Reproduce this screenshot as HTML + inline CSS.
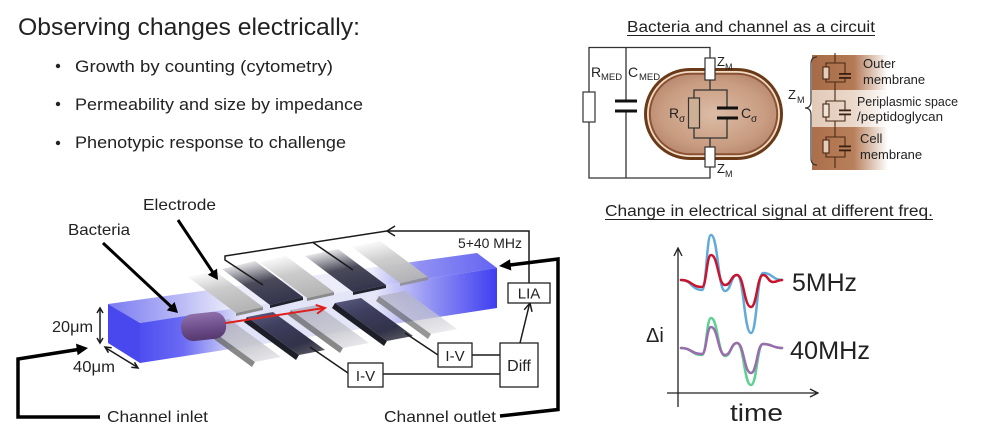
<!DOCTYPE html>
<html><head><meta charset="utf-8"><style>
html,body{margin:0;padding:0;background:#fff;}
svg{display:block;}
text{font-family:"Liberation Sans",sans-serif;fill:#222;}
</style></head><body>
<svg width="1000" height="446" viewBox="0 0 1000 446" xmlns="http://www.w3.org/2000/svg">
<defs>
<linearGradient id="front" gradientUnits="userSpaceOnUse" x1="140" y1="0" x2="497" y2="0">
<stop offset="0" stop-color="#4e4ef2"/><stop offset="0.12" stop-color="#6a6af3"/><stop offset="0.28" stop-color="#e2e2f8"/><stop offset="0.66" stop-color="#e6e6f8"/><stop offset="0.8" stop-color="#9a9af4"/><stop offset="1" stop-color="#3e3ef0"/></linearGradient>
<linearGradient id="top" gradientUnits="userSpaceOnUse" x1="108" y1="0" x2="497" y2="0">
<stop offset="0" stop-color="#7a7af2"/><stop offset="0.18" stop-color="#b8b8f6"/><stop offset="0.32" stop-color="#ececfa"/><stop offset="0.68" stop-color="#ececfa"/><stop offset="0.8" stop-color="#9090f2"/><stop offset="1" stop-color="#6464f2"/></linearGradient>
<linearGradient id="uLight" x1="0.6" y1="1" x2="0.2" y2="0">
<stop offset="0" stop-color="#b4b4b4"/><stop offset="0.55" stop-color="#cbcbcb"/><stop offset="1" stop-color="#ffffff"/></linearGradient>
<linearGradient id="uDark" x1="0.6" y1="1" x2="0.2" y2="0">
<stop offset="0" stop-color="#34344c"/><stop offset="0.5" stop-color="#4a4a5a"/><stop offset="1" stop-color="#ffffff"/></linearGradient>
<linearGradient id="lDark" x1="0.2" y1="0" x2="0.8" y2="1">
<stop offset="0" stop-color="#56567a"/><stop offset="0.3" stop-color="#3e3e5e"/><stop offset="0.75" stop-color="#32324a"/><stop offset="1" stop-color="#55555f"/></linearGradient>
<linearGradient id="lLight" x1="0.2" y1="0" x2="0.8" y2="1">
<stop offset="0" stop-color="#aeaec2"/><stop offset="0.6" stop-color="#c4c4cc"/><stop offset="1" stop-color="#e4e4e8"/></linearGradient>
<linearGradient id="bact" x1="0" y1="0" x2="0" y2="1">
<stop offset="0" stop-color="#8e70aa"/><stop offset="0.5" stop-color="#70508e"/><stop offset="1" stop-color="#56386e"/></linearGradient>
<radialGradient id="cell" cx="0.5" cy="0.5" r="0.6">
<stop offset="0" stop-color="#dcbca6"/><stop offset="0.7" stop-color="#c89c80"/><stop offset="1" stop-color="#b4846a"/></radialGradient>
<linearGradient id="band1" gradientUnits="userSpaceOnUse" x1="812" y1="0" x2="888" y2="0">
<stop offset="0" stop-color="#a66a46"/><stop offset="0.55" stop-color="#b47a56"/><stop offset="1" stop-color="#b47a56" stop-opacity="0"/></linearGradient>
<linearGradient id="band2" gradientUnits="userSpaceOnUse" x1="812" y1="0" x2="888" y2="0">
<stop offset="0" stop-color="#e2cab8"/><stop offset="0.55" stop-color="#ead8ca"/><stop offset="1" stop-color="#ead8ca" stop-opacity="0"/></linearGradient>
<linearGradient id="band3" gradientUnits="userSpaceOnUse" x1="812" y1="0" x2="888" y2="0">
<stop offset="0" stop-color="#ac6e4a"/><stop offset="0.55" stop-color="#b8805c"/><stop offset="1" stop-color="#b8805c" stop-opacity="0"/></linearGradient>
</defs>

<!-- Top-left text -->
<text x="18" y="35" font-size="24" textLength="342" lengthAdjust="spacingAndGlyphs" fill="#1a1a1a">Observing changes electrically:</text>
<circle cx="58" cy="66" r="2.2" fill="#222"/>
<circle cx="58" cy="104" r="2.2" fill="#222"/>
<circle cx="58" cy="143" r="2.2" fill="#222"/>
<text x="75" y="72" font-size="17" textLength="258" lengthAdjust="spacingAndGlyphs">Growth by counting (cytometry)</text>
<text x="75" y="110" font-size="17" textLength="288" lengthAdjust="spacingAndGlyphs">Permeability and size by impedance</text>
<text x="75" y="148" font-size="17" textLength="271" lengthAdjust="spacingAndGlyphs">Phenotypic response to challenge</text>

<!-- Circuit title -->
<text x="627" y="32" font-size="15.5" textLength="248" lengthAdjust="spacingAndGlyphs">Bacteria and channel as a circuit</text>
<line x1="627" y1="35.5" x2="875" y2="35.5" stroke="#222" stroke-width="1"/>

<!-- cell capsule -->
<rect x="644" y="68" width="139" height="92" rx="46" fill="#6a3a18"/>
<rect x="647" y="71" width="133" height="86" rx="43" fill="#f2dcc6"/>
<rect x="648.8" y="72.8" width="129.4" height="82.4" rx="41.2" fill="#8a5232"/>
<rect x="650.8" y="74.8" width="125.4" height="78.4" rx="39.2" fill="url(#cell)"/>

<!-- circuit wires -->
<g stroke="#333" stroke-width="1.3" fill="none">
<polyline points="710,58 710,47.5 589,47.5 589,92"/>
<polyline points="589,122 589,178 710,178 710,167"/>
<line x1="626" y1="47.5" x2="626" y2="101"/>
<line x1="626" y1="111" x2="626" y2="178"/>
<line x1="710" y1="80" x2="710" y2="90"/>
<line x1="710" y1="138" x2="710" y2="147"/>
<polyline points="694,98 694,90 727,90 727,108"/>
<polyline points="694,128 694,138 727,138 727,118"/>
</g>
<g stroke="#333" stroke-width="1.2" fill="#fff">
<rect x="583" y="92" width="12" height="30"/>
<rect x="705" y="58" width="10" height="22"/>
<rect x="705" y="147" width="10" height="20"/>
<rect x="688.5" y="98" width="11" height="30" fill="#cfae96"/>
</g>
<g fill="#111">
<rect x="615" y="99.5" width="22" height="3"/>
<rect x="615" y="109.5" width="22" height="3"/>
<rect x="717" y="106.5" width="21" height="3"/>
<rect x="717" y="116.5" width="21" height="3"/>
</g>
<text x="591" y="77" font-size="14">R</text><text x="601" y="80" font-size="9.5">MED</text>
<text x="628" y="77" font-size="14">C</text><text x="639" y="80" font-size="9.5">MED</text>
<text x="717" y="66" font-size="13">Z</text><text x="725" y="70" font-size="9">M</text>
<text x="717" y="173" font-size="13">Z</text><text x="725" y="177" font-size="9">M</text>
<text x="669" y="118" font-size="14">R</text><text x="679" y="122" font-size="10">σ</text>
<text x="741" y="118" font-size="14">C</text><text x="751" y="122" font-size="10">σ</text>

<!-- right membrane panel -->
<rect x="812" y="55" width="76" height="35" fill="url(#band1)"/>
<rect x="812" y="90" width="76" height="37" fill="url(#band2)"/>
<rect x="812" y="127" width="76" height="43" fill="url(#band3)"/>
<path d="M817,57 Q811,57 811,64 L811,101 Q811,108 805,108 Q811,108 811,115 L811,158 Q811,165 817,165" fill="none" stroke="#333" stroke-width="1.2"/>
<text x="788" y="99" font-size="13">Z</text><text x="797" y="103" font-size="9">M</text>
<g stroke="#4a2a14" stroke-width="1.1" fill="none">
<line x1="835" y1="53" x2="835" y2="63"/>
<polyline points="826,67 826,63 845,63 845,74"/><polyline points="826,79 826,82 845,82 845,78"/>
<line x1="835" y1="82" x2="835" y2="101"/>
<polyline points="826,104 826,101 845,101 845,110"/><polyline points="826,117 826,121 845,121 845,114"/>
<line x1="835" y1="121" x2="835" y2="137"/>
<polyline points="826,140 826,137 845,137 845,146"/><polyline points="826,153 826,157 845,157 845,150"/>
<line x1="835" y1="157" x2="835" y2="168"/>
<rect x="823" y="67" width="6" height="12" fill="#e4cdb9"/>
<rect x="823" y="104" width="6" height="13" fill="#efe2d6"/>
<rect x="823" y="140" width="6" height="13" fill="#e4cdb9"/>
</g>
<g fill="#3a2010">
<rect x="839" y="73" width="12" height="1.8"/><rect x="839" y="77" width="12" height="1.8"/>
<rect x="839" y="109.5" width="12" height="1.8"/><rect x="839" y="113.5" width="12" height="1.8"/>
<rect x="839" y="145.5" width="12" height="1.8"/><rect x="839" y="149.5" width="12" height="1.8"/>
</g>
<text x="863" y="68" font-size="13">Outer</text>
<text x="863" y="84" font-size="13">membrane</text>
<text x="857" y="106" font-size="13" textLength="101" lengthAdjust="spacingAndGlyphs">Periplasmic space</text>
<text x="857" y="121" font-size="13" textLength="86" lengthAdjust="spacingAndGlyphs">/peptidoglycan</text>
<text x="860" y="143" font-size="13">Cell</text>
<text x="860" y="159" font-size="13">membrane</text>

<!-- Graph -->
<text x="605" y="216" font-size="15.5" textLength="328" lengthAdjust="spacingAndGlyphs">Change in electrical signal at different freq.</text>
<line x1="605" y1="219.5" x2="933" y2="219.5" stroke="#222" stroke-width="1"/>
<g stroke="#222" stroke-width="1.3" fill="none">
<line x1="678" y1="407" x2="678" y2="249"/>
<polyline points="674,256 678,248 682,256"/>
<line x1="667" y1="393" x2="817" y2="393"/>
<polyline points="810,389 818,393 810,397"/>
</g>
<g fill="none" stroke-width="2.5" stroke-linecap="round">
<path stroke="#62aad8" d="M681,280 C691.5,280 691.5,290 702,290 C706.5,290 706.5,235 711,235 C718,235 718,291 725,291 C731,291 731,275 737,275 C744,275 744,333 751,333 C757,333 757,273 763,273 C772.5,273 772.5,280 782,280"/>
<path stroke="#c8142e" d="M681,280 C691.5,280 691.5,287 702,287 C706.5,287 706.5,255 711,255 C718,255 718,285 725,285 C731,285 731,275 737,275 C744,275 744,307 751,307 C757,307 757,275 763,275 C768,275 768,282 773,282 C777.5,282 777.5,280 782,280"/>
<path stroke="#5ed092" d="M681,348 C691.5,348 691.5,355 702,355 C706.5,355 706.5,318 711,318 C718,318 718,356 725,356 C731,356 731,343 737,343 C744,343 744,385 751,385 C757,385 757,344 763,344 C772.5,344 772.5,348 782,348"/>
<path stroke="#9a6cae" d="M681,348 C691.5,348 691.5,354 702,354 C706.5,354 706.5,327 711,327 C718,327 718,355 725,355 C731,355 731,343 737,343 C744,343 744,373 751,373 C757,373 757,344 763,344 C772.5,344 772.5,348 782,348"/>
</g>
<text x="646" y="342" font-size="20">Δi</text>
<text x="792" y="291" font-size="25" textLength="65" lengthAdjust="spacingAndGlyphs">5MHz</text>
<text x="790" y="359" font-size="25" textLength="80" lengthAdjust="spacingAndGlyphs">40MHz</text>
<text x="730" y="421" font-size="24" textLength="53" lengthAdjust="spacingAndGlyphs">time</text>

<!-- Channel -->
<polygon points="108,304 477,253 497,268 140,323" fill="url(#top)"/>
<polygon points="140,323 497,268 497,308 140,363" fill="url(#front)"/>
<polygon points="108,304 140,323 140,363 108,343" fill="#4848ee"/>

<!-- Upper electrodes -->
<polygon points="236,313 263,307 263,310 236,316" fill="#8a8a8a"/>
<polygon points="236,313 263,307 215,271 188,277" fill="url(#uLight)"/>
<polygon points="270,305 303,297 303,300 270,308" fill="#22222e"/>
<polygon points="270,305 303,297 255,261 222,269" fill="url(#uDark)"/>
<polygon points="307,298 334,292 334,295 307,301" fill="#8a8a8a"/>
<polygon points="307,298 334,292 286,256 259,262" fill="url(#uLight)"/>
<polygon points="353,292 386,285 386,288 353,295" fill="#22222e"/>
<polygon points="353,292 386,285 338,249 305,256" fill="url(#uDark)"/>
<polygon points="400,283 428,277 428,280 400,286" fill="#8a8a8a" opacity="0.8"/>
<polygon points="400,283 428,277 380,241 352,247" fill="url(#uLight)" opacity="0.95"/>

<!-- Lower electrodes -->
<polygon points="203,324 255,362 252,367 200,329" fill="#6a6a6a" opacity="0.8"/>
<polygon points="203,324 229,319 281,357 255,362" fill="url(#lLight)" opacity="0.9"/>
<polygon points="247,317 299,355 296,360 244,322" fill="#1e1e28"/>
<polygon points="247,317 273,312 325,350 299,355" fill="url(#lDark)"/>
<polygon points="291,310 343,348 340,353 288,315" fill="#6a6a6a" opacity="0.8"/>
<polygon points="291,310 317,305 369,343 343,348" fill="url(#lLight)" opacity="0.85"/>
<polygon points="335,303 387,341 384,346 332,308" fill="#1e1e28"/>
<polygon points="335,303 361,298 413,336 387,341" fill="url(#lDark)"/>
<polygon points="379,296 431,334 428,339 376,301" fill="#6a6a6a" opacity="0.7"/>
<polygon points="379,296 405,291 457,329 431,334" fill="url(#lLight)" opacity="0.7"/>

<!-- bacterium -->
<rect x="181" y="313" width="45" height="27" rx="12" fill="url(#bact)" transform="rotate(-6 203 326)"/>
<!-- red arrow -->
<g stroke="#e0201c" stroke-width="2" fill="none" stroke-linecap="round">
<line x1="226" y1="323" x2="324" y2="308"/>
<polyline points="317.7,313.2 325,308 316.5,305.2"/>
</g>

<!-- wires -->
<g stroke="#1a1a1a" stroke-width="1.5" fill="none">
<polyline points="387,231 225,256 225,260 263,285"/>
<line x1="313" y1="242.5" x2="353" y2="270"/>
<polyline points="395,226 387,231 395,236"/>
<polyline points="387,231 529,231 529,283"/>
<line x1="405" y1="333" x2="438" y2="355"/>
<line x1="310" y1="347" x2="348" y2="373"/>
<line x1="472" y1="355" x2="500" y2="355"/>
<line x1="383" y1="374" x2="500" y2="374"/>
<line x1="520" y1="343" x2="529.5" y2="304"/>
<polyline points="524.2,309.8 530,303 532,311.8"/>
<line x1="100" y1="309" x2="100" y2="342"/>
<polyline points="97,313 100,308 103,313"/>
<polyline points="97,338 100,343 103,338"/>
<line x1="106" y1="348" x2="137" y2="367"/>
<polyline points="108.5,352.7 105,347 111.7,347.7"/>
<polyline points="131.3,367.3 138,368 134.5,362.3"/>
</g>
<g stroke="#222" stroke-width="1.3" fill="#fff">
<rect x="508" y="283" width="42" height="20"/>
<rect x="500" y="343" width="38" height="44"/>
<rect x="438" y="343" width="34" height="24"/>
<rect x="348" y="363" width="35" height="24"/>
</g>
<text x="529" y="298.5" font-size="15" text-anchor="middle">LIA</text>
<text x="519" y="371" font-size="16" text-anchor="middle">Diff</text>
<text x="455" y="361" font-size="15" text-anchor="middle">I-V</text>
<text x="365.5" y="381" font-size="15" text-anchor="middle">I-V</text>
<text x="458" y="248" font-size="14" textLength="64" lengthAdjust="spacingAndGlyphs">5+40 MHz</text>

<!-- thick arrows -->
<g stroke="#000" stroke-width="3" fill="none" stroke-linejoin="miter">
<line x1="103" y1="243" x2="171" y2="306.5"/>
<line x1="178" y1="220" x2="213" y2="272.5"/>
</g>
<polygon points="178,313 166.8,310.4 174.6,302" fill="#000"/>
<polygon points="218,280 207.8,274.8 217,268.6" fill="#000"/>
<g stroke="#000" stroke-width="3.5" fill="none" stroke-linejoin="miter">
<polyline points="100,417 18,417 18,359 78,349.5"/>
<polyline points="500,416 558,409.5 558,259 510,265"/>
</g>
<polygon points="88,348 77.6,355.2 76,343.6" fill="#000"/>
<polygon points="499,266 510,259.3 511.3,270.5" fill="#000"/>

<!-- labels -->
<text x="143" y="210" font-size="16" textLength="73" lengthAdjust="spacingAndGlyphs">Electrode</text>
<text x="68" y="235" font-size="16" textLength="62" lengthAdjust="spacingAndGlyphs">Bacteria</text>
<text x="52" y="332" font-size="15.5" textLength="41" lengthAdjust="spacingAndGlyphs">20μm</text>
<text x="73" y="372" font-size="15.5" textLength="42" lengthAdjust="spacingAndGlyphs">40μm</text>
<text x="107" y="422" font-size="16" textLength="101" lengthAdjust="spacingAndGlyphs">Channel inlet</text>
<text x="384" y="422" font-size="16" textLength="112" lengthAdjust="spacingAndGlyphs">Channel outlet</text>
</svg>
</body></html>
